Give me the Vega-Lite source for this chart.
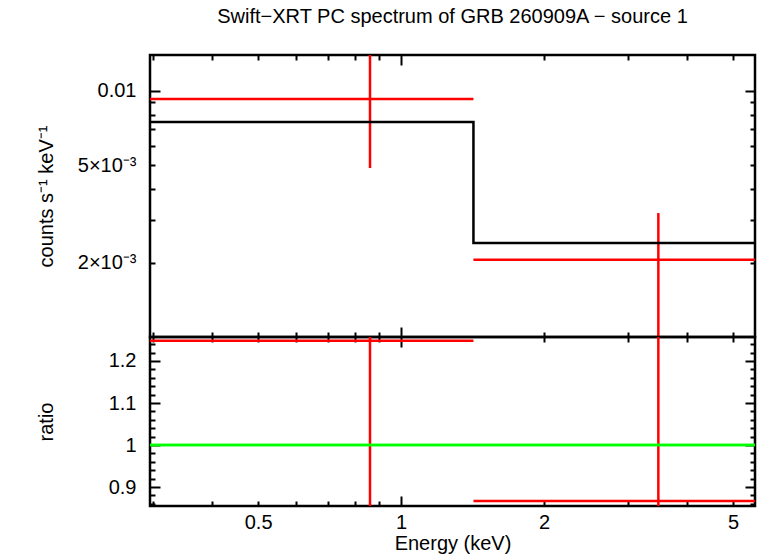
{
  "$schema": "https://vega.github.io/schema/vega-lite/v6.json",
  "padding": {"left": 34, "top": 5, "right": 0, "bottom": 0},
  "spacing": 0,
  "bounds": "flush",
  "config": {
    "view": {"stroke": "black", "strokeWidth": 2.5},
    "axis": {
      "domain": false,
      "grid": false,
      "tickColor": "black",
      "tickWidth": 2,
      "labelFont": "Liberation Sans",
      "labelFontSize": 20,
      "labelColor": "black",
      "titleFont": "Liberation Sans",
      "titleFontSize": 20,
      "titleFontWeight": "normal",
      "titleColor": "black"
    }
  },
  "datasets": {
    "bins": [
      {"elo": 0.29, "ehi": 1.42, "e": 0.86, "rate": 0.00928, "rlo": 0.00486, "rhi": 0.0145, "ratio": 1.248, "qlo": 0.66, "qhi": 1.84},
      {"elo": 1.42, "ehi": 5.7, "e": 3.48, "rate": 0.00206, "rlo": 0.00093, "rhi": 0.00319, "ratio": 0.867, "qlo": 0.4, "qhi": 1.34}
    ],
    "model": [
      {"e": 0.29, "m": 0.00748},
      {"e": 1.42, "m": 0.00241},
      {"e": 5.7, "m": 0.00241}
    ]
  },
  "vconcat": [
    {
      "width": 605,
      "height": 282,
      "title": {
        "text": "Swift−XRT PC spectrum of GRB 260909A − source 1",
        "font": "Liberation Sans",
        "fontSize": 20,
        "fontWeight": "normal",
        "color": "black",
        "anchor": "middle",
        "offset": 27
      },
      "layer": [
        {
          "data": {"name": "bins"},
          "mark": {"type": "rule", "color": "red", "strokeWidth": 2.5, "clip": true},
          "encoding": {
            "x": {"field": "elo", "type": "quantitative", "scale": {"type": "log", "domain": [0.296, 5.56], "nice": false},
              "axis": {"orient": "bottom", "values": [1], "tickSize": -10, "labels": false, "title": null}},
            "x2": {"field": "ehi"},
            "y": {"field": "rate", "type": "quantitative", "scale": {"type": "log", "domain": [0.001, 0.014], "nice": false},
              "axis": {"orient": "left", "values": [0.01], "tickSize": -10, "labels": false, "title": null}}
          }
        },
        {
          "data": {"name": "bins"},
          "mark": {"type": "rule", "color": "red", "strokeWidth": 2.5, "clip": true},
          "encoding": {
            "x": {"field": "e", "type": "quantitative", "scale": {"type": "log", "domain": [0.296, 5.56], "nice": false},
              "axis": {"orient": "bottom", "values": [0.3, 0.4, 0.5, 0.6, 0.7, 0.8, 0.9, 2, 3, 4, 5], "tickSize": -5, "labels": false, "title": null}},
            "y": {"field": "rlo", "type": "quantitative", "scale": {"type": "log", "domain": [0.001, 0.014], "nice": false},
              "axis": {"orient": "left", "values": [0.002, 0.003, 0.004, 0.005, 0.006, 0.007, 0.008, 0.009], "tickSize": -5, "labels": false, "title": null}},
            "y2": {"field": "rhi"}
          }
        },
        {
          "data": {"name": "model"},
          "mark": {"type": "line", "color": "black", "strokeWidth": 2.5, "interpolate": "step-after", "clip": true},
          "encoding": {
            "x": {"field": "e", "type": "quantitative", "scale": {"type": "log", "domain": [0.296, 5.56], "nice": false},
              "axis": {"orient": "top", "values": [1], "tickSize": -10, "labels": false, "title": null}},
            "y": {"field": "m", "type": "quantitative", "scale": {"type": "log", "domain": [0.001, 0.014], "nice": false},
              "axis": {"orient": "right", "values": [0.01], "tickSize": -10, "labels": false, "title": null}}
          }
        },
        {
          "data": {"name": "bins"},
          "mark": {"type": "point", "opacity": 0},
          "encoding": {
            "x": {"field": "e", "type": "quantitative", "scale": {"type": "log", "domain": [0.296, 5.56], "nice": false},
              "axis": {"orient": "top", "values": [0.3, 0.4, 0.5, 0.6, 0.7, 0.8, 0.9, 2, 3, 4, 5], "tickSize": -5, "labels": false, "title": null}},
            "y": {"field": "rate", "type": "quantitative", "scale": {"type": "log", "domain": [0.001, 0.014], "nice": false},
              "axis": {"orient": "right", "values": [0.002, 0.003, 0.004, 0.005, 0.006, 0.007, 0.008, 0.009], "tickSize": -5, "labels": false, "title": null}}
          }
        },
        {
          "data": {"name": "bins"},
          "mark": {"type": "point", "opacity": 0},
          "encoding": {
            "x": {"field": "e", "type": "quantitative", "scale": {"type": "log", "domain": [0.296, 5.56], "nice": false}, "axis": null},
            "y": {"field": "rate", "type": "quantitative", "scale": {"type": "log", "domain": [0.001, 0.014], "nice": false},
              "axis": {
                "orient": "left",
                "values": [0.002, 0.005, 0.01],
                "ticks": false,
                "labelPadding": 14,
                "labelExpr": "datum.value > 0.008 ? '0.01' : datum.value > 0.004 ? '5×10⁻³' : '2×10⁻³'",
                "title": "counts s⁻¹ keV⁻¹",
                "titleX": -104,
                "titleBaseline": "middle"
              }}
          }
        }
      ],
      "resolve": {"axis": {"x": "independent", "y": "independent"}}
    },
    {
      "width": 605,
      "height": 169,
      "layer": [
        {
          "data": {"name": "bins"},
          "mark": {"type": "rule", "color": "red", "strokeWidth": 2.5, "clip": true},
          "encoding": {
            "x": {"field": "elo", "type": "quantitative", "scale": {"type": "log", "domain": [0.296, 5.56], "nice": false},
              "axis": {"orient": "bottom", "values": [1], "tickSize": -10, "labels": false, "title": null}},
            "x2": {"field": "ehi"},
            "y": {"field": "ratio", "type": "quantitative", "scale": {"domain": [0.855, 1.257], "nice": false, "zero": false},
              "axis": {"orient": "left", "values": [0.9, 1, 1.1, 1.2], "tickSize": -10, "labels": false, "title": null}}
          }
        },
        {
          "data": {"name": "bins"},
          "mark": {"type": "rule", "color": "red", "strokeWidth": 2.5, "clip": true},
          "encoding": {
            "x": {"field": "e", "type": "quantitative", "scale": {"type": "log", "domain": [0.296, 5.56], "nice": false},
              "axis": {"orient": "bottom", "values": [0.3, 0.4, 0.5, 0.6, 0.7, 0.8, 0.9, 2, 3, 4, 5], "tickSize": -5, "labels": false, "title": null}},
            "y": {"field": "qlo", "type": "quantitative", "scale": {"domain": [0.855, 1.257], "nice": false, "zero": false},
              "axis": {"orient": "left", "values": [0.86, 0.88, 0.92, 0.94, 0.96, 0.98, 1.02, 1.04, 1.06, 1.08, 1.12, 1.14, 1.16, 1.18, 1.22, 1.24], "tickSize": -5, "labels": false, "title": null}},
            "y2": {"field": "qhi"}
          }
        },
        {
          "data": {"name": "bins"},
          "mark": {"type": "rule", "color": "#00ff00", "strokeWidth": 2.5},
          "encoding": {
            "y": {"datum": 1, "type": "quantitative", "scale": {"domain": [0.855, 1.257], "nice": false, "zero": false},
              "axis": {"orient": "right", "values": [0.9, 1, 1.1, 1.2], "tickSize": -10, "labels": false, "title": null}}
          }
        },
        {
          "data": {"name": "bins"},
          "mark": {"type": "point", "opacity": 0},
          "encoding": {
            "x": {"field": "e", "type": "quantitative", "scale": {"type": "log", "domain": [0.296, 5.56], "nice": false},
              "axis": {"orient": "top", "values": [1], "tickSize": -10, "labels": false, "title": null}},
            "y": {"field": "ratio", "type": "quantitative", "scale": {"domain": [0.855, 1.257], "nice": false, "zero": false},
              "axis": {"orient": "right", "values": [0.86, 0.88, 0.92, 0.94, 0.96, 0.98, 1.02, 1.04, 1.06, 1.08, 1.12, 1.14, 1.16, 1.18, 1.22, 1.24], "tickSize": -5, "labels": false, "title": null}}
          }
        },
        {
          "data": {"name": "bins"},
          "mark": {"type": "point", "opacity": 0},
          "encoding": {
            "x": {"field": "e", "type": "quantitative", "scale": {"type": "log", "domain": [0.296, 5.56], "nice": false},
              "axis": {"orient": "top", "values": [0.3, 0.4, 0.5, 0.6, 0.7, 0.8, 0.9, 2, 3, 4, 5], "tickSize": -5, "labels": false, "title": null}},
            "y": {"field": "ratio", "type": "quantitative", "scale": {"domain": [0.855, 1.257], "nice": false, "zero": false}, "axis": null}
          }
        },
        {
          "data": {"name": "bins"},
          "mark": {"type": "point", "opacity": 0},
          "encoding": {
            "x": {"field": "e", "type": "quantitative", "scale": {"type": "log", "domain": [0.296, 5.56], "nice": false},
              "axis": {"orient": "bottom", "values": [0.5, 1, 2, 5], "ticks": false, "labelPadding": 6, "labelFlush": false, "format": "~g", "title": "Energy (keV)", "titlePadding": 1}},
            "y": {"field": "ratio", "type": "quantitative", "scale": {"domain": [0.855, 1.257], "nice": false, "zero": false},
              "axis": {"orient": "left", "values": [0.9, 1, 1.1, 1.2], "ticks": false, "labelPadding": 14, "format": "~g", "title": "ratio", "titleX": -104, "titleBaseline": "middle"}}
          }
        }
      ],
      "resolve": {"axis": {"x": "independent", "y": "independent"}}
    }
  ]
}
